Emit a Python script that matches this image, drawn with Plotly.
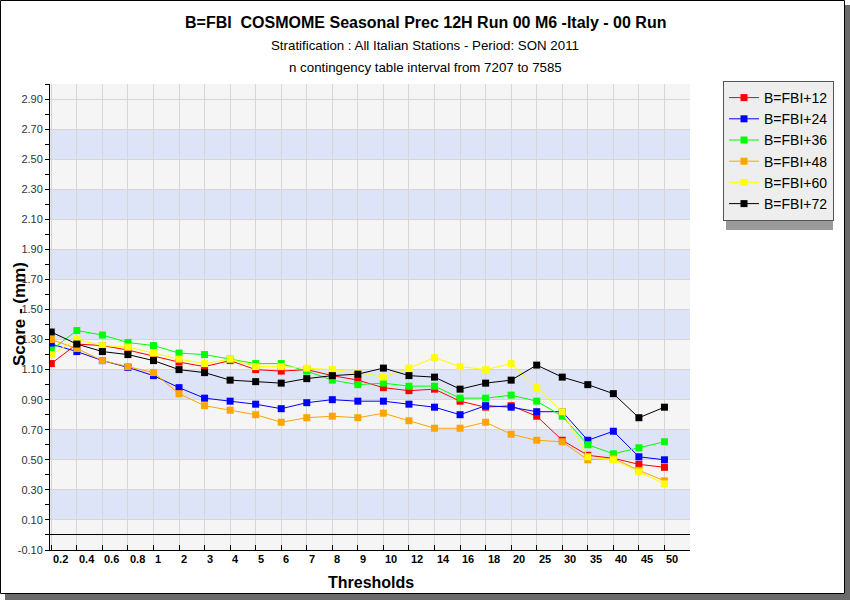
import plotly.graph_objects as go

thresholds = ["0.2", "0.4", "0.6", "0.8", "1", "2", "3", "4", "5", "6", "7", "8", "9",
              "10", "12", "14", "16", "18", "20", "25", "30", "35", "40", "45", "50"]

fbi_12 = [1.14, 1.27, 1.26, 1.23, 1.19, 1.15, 1.12, 1.16, 1.10, 1.09, 1.10, 1.06, 1.03,
          0.98, 0.96, 0.97, 0.89, 0.85, 0.86, 0.79, 0.63, 0.53, 0.51, 0.47, 0.45]
fbi_24 = [1.27, 1.22, 1.16, 1.115, 1.06, 0.98, 0.91, 0.89, 0.87, 0.84, 0.88, 0.90, 0.89,
          0.89, 0.87, 0.85, 0.80, 0.86, 0.85, 0.82, 0.82, 0.63, 0.69, 0.52, 0.50]
fbi_36 = [1.23, 1.36, 1.33, 1.28, 1.26, 1.21, 1.20, 1.17, 1.14, 1.14, 1.09, 1.03, 1.00,
          1.01, 0.99, 0.99, 0.91, 0.91, 0.93, 0.89, 0.79, 0.60, 0.54, 0.58, 0.62]
fbi_48 = [1.30, 1.24, 1.16, 1.12, 1.08, 0.94, 0.86, 0.83, 0.80, 0.75, 0.78, 0.79, 0.78,
          0.81, 0.76, 0.71, 0.71, 0.75, 0.67, 0.63, 0.62, 0.50, 0.51, 0.43, 0.36]
fbi_60 = [1.20, 1.30, 1.26, 1.25, 1.21, 1.17, 1.14, 1.17, 1.12, 1.12, 1.11, 1.10, 1.08,
          1.05, 1.11, 1.18, 1.12, 1.10, 1.14, 0.98, 0.82, 0.52, 0.50, 0.42, 0.34]
fbi_72 = [1.35, 1.27, 1.22, 1.20, 1.16, 1.10, 1.08, 1.03, 1.02, 1.01, 1.04, 1.06, 1.07,
          1.11, 1.06, 1.05, 0.97, 1.01, 1.03, 1.13, 1.05, 1.00, 0.94, 0.78, 0.85]

series_names = ["B=FBI+12", "B=FBI+24", "B=FBI+36", "B=FBI+48", "B=FBI+60", "B=FBI+72"]
series_values = [fbi_12, fbi_24, fbi_36, fbi_48, fbi_60, fbi_72]
series_colors = ["#ff0000", "#0000ff", "#00ff00", "#ffa500", "#ffff00", "#000000"]

y_tick_values = [-0.1, 0.1, 0.3, 0.5, 0.7, 0.9, 1.1, 1.3, 1.5, 1.7, 1.9, 2.1, 2.3, 2.5, 2.7, 2.9]
y_minor_values = [0.0, 0.2, 0.4, 0.6, 0.8, 1.0, 1.2, 1.4, 1.6, 1.8, 2.0, 2.2, 2.4, 2.6, 2.8, 3.0]
blue_bands = [(0.1, 0.3), (0.5, 0.7), (0.9, 1.1), (1.3, 1.5), (1.7, 1.9), (2.1, 2.3), (2.5, 2.7)]

title_text = "B=FBI&nbsp; COSMOME Seasonal Prec 12H Run 00 M6 -Italy - 00 Run"
subtitle_1 = "Stratification : All Italian Stations - Period: SON 2011"
subtitle_2 = "n contingency table interval from 7207 to 7585"

W, H = 850, 600
L, R, T, B = 50, 160, 84, 50
PW, PH = W - L - R, H - T - B


def px(x):
    return (x - L) / PW


def py(y):
    return (H - B - y) / PH


fig = go.Figure()
for name, vals, col in zip(series_names, series_values, series_colors):
    fig.add_trace(go.Scatter(
        x=thresholds, y=vals, name=name, mode="lines+markers",
        line=dict(color=col, width=1),
        marker=dict(symbol="square", size=7, color=col),
        hoverinfo="skip",
    ))

shapes = []
for y0, y1 in blue_bands:
    shapes.append(dict(type="rect", xref="paper", yref="y", x0=0, x1=1, y0=y0, y1=y1,
                       fillcolor="#dde4f8", line=dict(width=0), layer="below"))
# outer frame shadow + border
shapes.append(dict(type="rect", xref="paper", yref="paper", x0=px(5), x1=px(850),
                   y0=py(600), y1=py(594), fillcolor="#6b6b6b", line=dict(width=0), layer="above"))
shapes.append(dict(type="rect", xref="paper", yref="paper", x0=px(845), x1=px(850),
                   y0=py(600), y1=py(5), fillcolor="#6b6b6b", line=dict(width=0), layer="above"))
shapes.append(dict(type="rect", xref="paper", yref="paper", x0=px(0.5), x1=px(844.5),
                   y0=py(593.5), y1=py(0.5), line=dict(color="#000000", width=1), layer="above"))
# legend shadow
shapes.append(dict(type="rect", xref="paper", yref="paper", x0=px(726), x1=px(833),
                   y0=py(230), y1=py(86), fillcolor="#9a9a9a", line=dict(width=0), layer="above"))

annotations = []
for i, t in enumerate(thresholds):
    annotations.append(dict(x=i, xref="x", y=0, yref="paper", yshift=-9, text=t,
                            showarrow=False, xanchor="left", yanchor="middle",
                            font=dict(family="Liberation Sans Narrow, Liberation Sans, Arial", size=11,
                                      color="#000000", weight="bold")))


def label(x, y, text, size, angle=0):
    return dict(x=px(x), y=py(y), xref="paper", yref="paper", text=text, textangle=angle,
                showarrow=False, xanchor="center", yanchor="middle",
                font=dict(family="Liberation Sans, Arial", size=size, color="#000000"))


annotations += [
    label(425, 23, "<b>" + title_text + "</b>", 16),
    label(425, 46, subtitle_1, 13.3),
    label(425, 68, subtitle_2, 13.3),
    label(371, 582, "<b>Thresholds</b>", 16),
    label(19, 314, "<b>Score - (mm)</b>", 17, -90),
]

fig.update_layout(
    width=W, height=H,
    margin=dict(l=L, r=R, t=T, b=B, pad=0),
    paper_bgcolor="#ffffff",
    plot_bgcolor="#f5f5f5",
    font=dict(family="Liberation Sans, Arial", color="#333333"),
    showlegend=True,
    hovermode=False,
    legend=dict(x=px(723), y=py(81), xanchor="left", yanchor="top",
                bgcolor="#eeeeee", bordercolor="#555555", borderwidth=1,
                font=dict(family="Liberation Sans, Arial", size=14, color="#000000"),
                itemwidth=30, tracegroupgap=0),
    shapes=shapes,
    annotations=annotations,
    xaxis=dict(type="category", range=[-0.05, 25], showline=True, linecolor="#000000", linewidth=1,
               ticks="inside", ticklen=5, tickcolor="#000000", showticklabels=False,
               showgrid=True, gridcolor="#d6d6d6", gridwidth=1, zeroline=False, fixedrange=True),
    yaxis=dict(range=[-0.1, 3.0], tickmode="array", tickvals=y_tick_values,
               ticktext=["%.2f" % v for v in y_tick_values],
               showline=True, linecolor="#000000", linewidth=1,
               ticks="outside", ticklen=4, tickcolor="#000000",
               tickfont=dict(size=11, color="#333333"),
               minor=dict(tickvals=y_minor_values, ticks="outside", ticklen=4, tickcolor="#000000",
                          showgrid=False),
               showgrid=True, gridcolor="#d6d6d6", gridwidth=1,
               zeroline=True, zerolinecolor="#000000", zerolinewidth=1, fixedrange=True),
)

fig.write_html("out.html", config={"displayModeBar": False, "staticPlot": True},
               post_script="document.body.style.margin='0px';")
